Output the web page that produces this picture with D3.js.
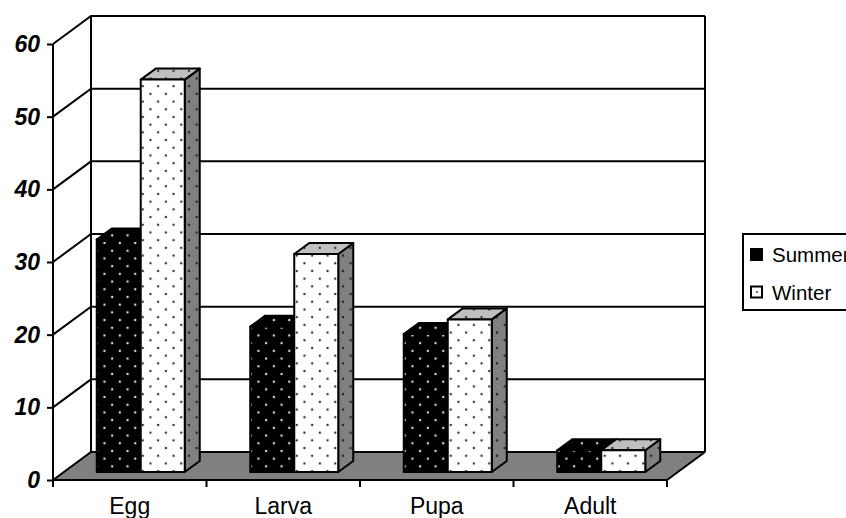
<!DOCTYPE html>
<html>
<head>
<meta charset="utf-8">
<script src="https://cdn.jsdelivr.net/npm/d3@7"></script>
<style>
html, body { margin: 0; padding: 0; background: #fff; overflow: hidden; }
svg { display: block; }
</style>
</head>
<body>
<svg id="chart" width="846" height="518"></svg>
<script>
// values
const categories = ["Egg", "Larva", "Pupa", "Adult"];
const summer = [32, 20, 19, 3];
const winter = [54, 30, 21, 3];
const yTicks = [0, 10, 20, 30, 40, 50, 60];
const seriesNames = ["Summer", "Winter"];

const svg = d3.select("#chart");

// front plane of the 3d box and how far back the wall sits
const plotL = 53, plotR = 667, plotB = 480, plotT = 44;
const depthX = 38, depthY = -28;
// bars stand part way into the floor
const barOffX = 11, barOffY = -8, barDepthX = 15, barDepthY = -11;

const yScale = d3.scaleLinear().domain([0, 60]).range([plotB, plotT]);
const xScale = d3.scaleBand().domain(categories).range([plotL, plotR])
    .paddingInner(0.4267).paddingOuter(0.2133);
const serScale = d3.scaleBand().domain(seriesNames).range([0, xScale.bandwidth()]);

const line = d3.line();

//fill patterns, dots on a staggered grid
const defs = svg.append("defs");
function addPattern(id, bg, dot, ox, oy) {
    const p = defs.append("pattern")
        .attr("id", id)
        .attr("patternUnits", "userSpaceOnUse")
        .attr("x", ox).attr("y", oy)
        .attr("width", 15.4).attr("height", 15.4);
    p.append("rect").attr("width", 15.4).attr("height", 15.4).attr("fill", bg);
    p.append("circle").attr("cx", 3.85).attr("cy", 3.85).attr("r", 1.2).attr("fill", dot);
    p.append("circle").attr("cx", 11.55).attr("cy", 11.55).attr("r", 1.2).attr("fill", dot);
}
addPattern("darkFront", "#000", "#ddd", 0.5, 0.5);
addPattern("lightFront", "#fff", "#333", 0.3, 5.3);
addPattern("lightTop", "#c0c0c0", "#333", 0.3, 5.3);
addPattern("lightSide", "#808080", "#222", 0.3, 5.3);

// floor
svg.append("path")
    .attr("d", line([[plotL, plotB], [plotL + depthX, plotB + depthY],
        [plotR + depthX, plotB + depthY], [plotR, plotB]]) + "Z")
    .attr("fill", "#808080")
    .attr("stroke", "none");

// wall gridlines
const grid = svg.append("g").attr("fill", "none").attr("stroke", "#000").attr("stroke-width", 2);
yTicks.forEach(v => {
    grid.append("path").attr("d", line([
        [plotL, yScale(v)],
        [plotL + depthX, yScale(v) + depthY],
        [plotR + depthX, yScale(v) + depthY]
    ]));
});
grid.append("path").attr("d", line([[plotL + depthX, yScale(0) + depthY], [plotL + depthX, yScale(60) + depthY]]));
grid.append("path").attr("d", line([[plotR + depthX, yScale(0) + depthY], [plotR + depthX, yScale(60) + depthY]]));
grid.append("path").attr("d", line([[plotR, plotB], [plotR + depthX, plotB + depthY]]));

// bars
function drawBar(g, x0, w, value, front, topFill, sideFill) {
    const xa = x0 + barOffX, xb = xa + w;
    const y0 = yScale(0) + barOffY, y1 = yScale(value) + barOffY;
    const face = (pts, fill) => g.append("path")
        .attr("d", line(pts) + "Z")
        .attr("fill", fill)
        .attr("stroke", "#000")
        .attr("stroke-width", 2)
        .attr("stroke-linejoin", "round");
    face([[xb, y0], [xb + barDepthX, y0 + barDepthY], [xb + barDepthX, y1 + barDepthY], [xb, y1]], sideFill);
    face([[xa, y1], [xa + barDepthX, y1 + barDepthY], [xb + barDepthX, y1 + barDepthY], [xb, y1]], topFill);
    face([[xa, y0], [xa, y1], [xb, y1], [xb, y0]], front);
}

const bars = svg.append("g");
categories.forEach((c, i) => {
    const g = bars.append("g");
    drawBar(g, xScale(c) + serScale("Summer"), serScale.bandwidth(), summer[i],
        "url(#darkFront)", "url(#darkFront)", "url(#darkFront)");
    drawBar(g, xScale(c) + serScale("Winter"), serScale.bandwidth(), winter[i],
        "url(#lightFront)", "url(#lightTop)", "url(#lightSide)");
});

// y axis
const yAxis = d3.axisLeft(yScale).tickValues(yTicks).tickSize(6).tickPadding(7);
const yG = svg.append("g").attr("transform", `translate(${plotL},0)`).call(yAxis);
yG.select(".domain").attr("stroke", "#000").attr("stroke-width", 2).attr("d", `M0,${plotT}V${plotB}`);
yG.selectAll(".tick line").attr("stroke", "#000").attr("stroke-width", 2);
yG.selectAll(".tick text")
    .attr("font-family", "'Liberation Sans', Arial, sans-serif")
    .attr("font-size", "23px")
    .attr("font-weight", "bold")
    .attr("font-style", "italic")
    .attr("fill", "#000");

// x axis, ticks sit between the categories
const xAxis = d3.axisBottom(xScale).tickSize(0).tickPadding(18);
const xG = svg.append("g").attr("transform", `translate(0,${plotB})`).call(xAxis);
xG.select(".domain").attr("stroke", "#000").attr("stroke-width", 2).attr("d", `M${plotL},0H${plotR}`);
xG.selectAll(".tick text")
    .attr("font-family", "'Liberation Sans', Arial, sans-serif")
    .attr("font-size", "23px")
    .attr("fill", "#000");
const step = xScale.step();
d3.range(categories.length + 1).forEach(i => {
    xG.append("line")
        .attr("x1", plotL + i * step).attr("x2", plotL + i * step)
        .attr("y1", 0).attr("y2", 7)
        .attr("stroke", "#000").attr("stroke-width", 2);
});

// legend
const legend = svg.append("g");
legend.append("rect")
    .attr("x", 743).attr("y", 234)
    .attr("width", 120).attr("height", 76)
    .attr("fill", "#fff").attr("stroke", "#000").attr("stroke-width", 2);
seriesNames.forEach((name, i) => {
    const y = 249 + i * 37.5;
    legend.append("rect")
        .attr("x", 751).attr("y", y)
        .attr("width", 11).attr("height", 11)
        .attr("fill", i === 0 ? "#000" : "#fff")
        .attr("stroke", "#000").attr("stroke-width", 2);
    legend.append("text")
        .attr("x", 772).attr("y", y + 13)
        .attr("font-family", "'Liberation Sans', Arial, sans-serif")
        .attr("font-size", "20.5px")
        .attr("fill", "#000")
        .text(name);
});
legend.append("circle").attr("cx", 757).attr("cy", 292).attr("r", 0.9).attr("fill", "#333");
</script>
</body>
</html>
